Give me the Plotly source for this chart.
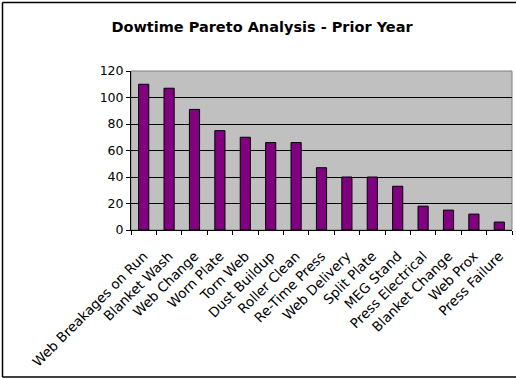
import plotly.graph_objects as go

categories = ["Web Breakages on Run", "Blanket Wash", "Web Change", "Worn Plate",
              "Torn Web", "Dust Buildup", "Roller Clean", "Re-Time Press",
              "Web Delivery", "Split Plate", "MEG Stand", "Press Electrical",
              "Blanket Change", "Web Prox", "Press Failure"]
downtime = [110, 107, 91, 75, 70, 66, 66, 47, 40, 40, 33, 18, 15, 12, 6]
y_ticks = [0, 20, 40, 60, 80, 100, 120]

W, H = 516, 379
ML, MR, MT, MB = 131, 4, 71, 149
pw, ph = W - ML - MR, H - MT - MB

font = "DejaVu Sans, Arial, sans-serif"

fig = go.Figure(go.Bar(
    x=categories, y=downtime,
    marker=dict(color="#800080", line=dict(color="#000000", width=1)),
))

def px_to_paper_x(px):
    return (px - ML) / pw

def px_to_paper_y(py):
    return (H - MB - py) / ph

# chart area frame (left, top and bottom edges)
fl, ft, fb, fr = px_to_paper_x(2.5), px_to_paper_y(2.5), px_to_paper_y(377), px_to_paper_x(W)
frame = [
    dict(type="line", xref="paper", yref="paper", x0=fl, x1=fl, y0=fb, y1=ft,
         line=dict(color="#000000", width=1.5)),
    dict(type="line", xref="paper", yref="paper", x0=fl, x1=fr, y0=ft, y1=ft,
         line=dict(color="#000000", width=1.5)),
    dict(type="line", xref="paper", yref="paper", x0=fl, x1=fr, y0=fb, y1=fb,
         line=dict(color="#000000", width=1.5)),
]

fig.update_layout(
    width=W, height=H,
    margin=dict(l=ML, r=MR, t=MT, b=MB, pad=0),
    paper_bgcolor="#FFFFFF", plot_bgcolor="#C0C0C0",
    bargap=0.6,
    showlegend=False,
    title=dict(text="<b>Dowtime Pareto Analysis - Prior Year</b>",
               font=dict(family=font, size=14.5, color="#000000"),
               x=262 / W, xanchor="center", xref="container",
               y=1 - 27 / H, yanchor="middle", yref="container"),
    font=dict(family=font, size=12.5, color="#000000"),
    xaxis=dict(tickangle=-45, tickson="boundaries", ticks="outside",
               ticklen=4, tickcolor="#000000", showline=True,
               linecolor="#000000", linewidth=1, showgrid=False,
               ticklabelstandoff=12,
               tickfont=dict(family=font, size=13.5, color="#000000")),
    yaxis=dict(range=[0, 120], tickvals=y_ticks, ticks="outside", ticklen=4,
               tickcolor="#000000", showline=True, linecolor="#000000",
               linewidth=1, showgrid=True, gridcolor="#000000", gridwidth=1,
               zeroline=False,
               tickfont=dict(family=font, size=12.5, color="#000000")),
    shapes=[
        # plot area frame
        dict(type="rect", xref="paper", yref="paper", x0=0, x1=1, y0=0, y1=1,
             line=dict(color="#808080", width=1), layer="below"),
    ] + frame,
)

fig.write_html("out.html")
